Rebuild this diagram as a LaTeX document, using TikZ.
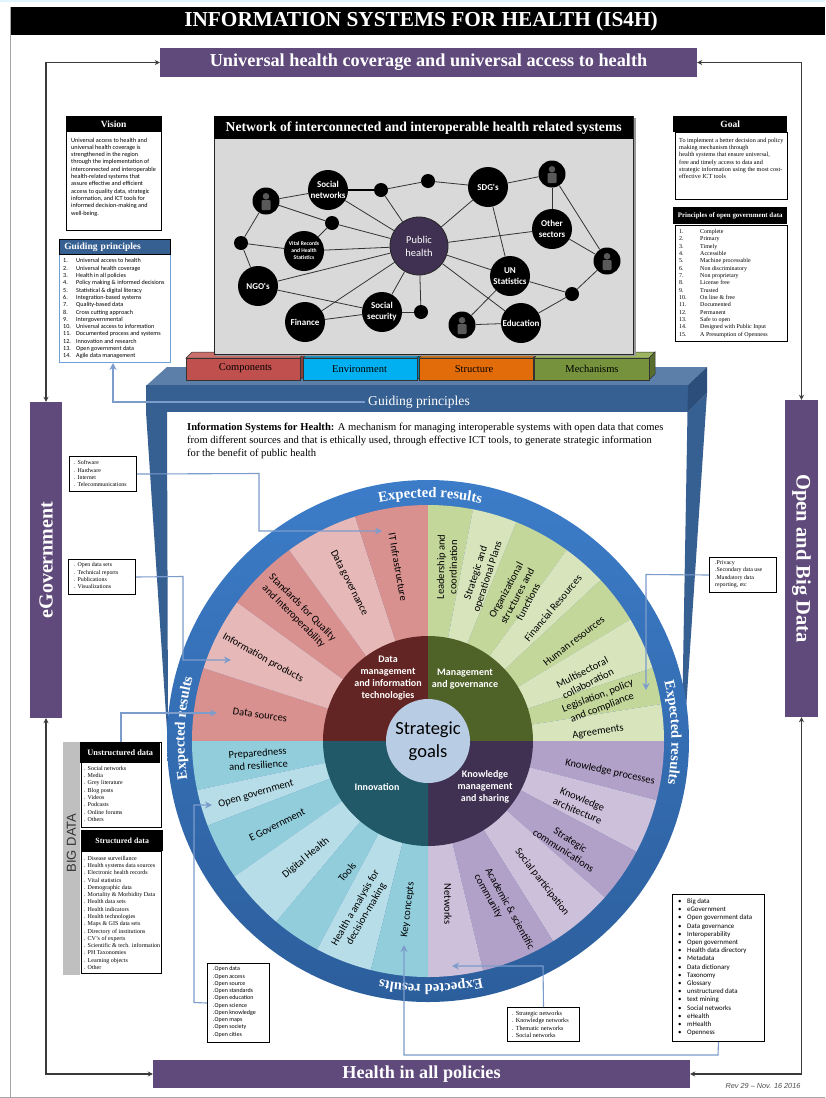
\documentclass[tikz,border=0pt]{standalone}
\usepackage{fontspec}
\setmainfont{Liberation Serif}
\setsansfont{Liberation Sans}
\newfontfamily\calfont{Carlito}
\usetikzlibrary{arrows.meta,calc,decorations.text}
\definecolor{barpurple}{HTML}{604A7B}
\definecolor{bandblue}{HTML}{376092}
\definecolor{bandtop}{HTML}{5B7FA8}
\definecolor{bandside}{HTML}{2B4F7A}
\definecolor{linkblue}{HTML}{7C9CCB}
\definecolor{framedark}{HTML}{3A3A3A}
\definecolor{redD}{HTML}{D9918F}
\definecolor{redL}{HTML}{E6B8B7}
\definecolor{greenD}{HTML}{C4D79B}
\definecolor{greenL}{HTML}{D8E4BC}
\definecolor{purpD}{HTML}{B1A0C7}
\definecolor{purpL}{HTML}{CCC0DA}
\definecolor{blueD}{HTML}{92CDDC}
\definecolor{blueL}{HTML}{B7DEE8}
\definecolor{coreR}{HTML}{632523}
\definecolor{coreG}{HTML}{4F6228}
\definecolor{coreP}{HTML}{403152}
\definecolor{coreB}{HTML}{215968}
\definecolor{hub}{HTML}{B8CCE4}
\definecolor{ringT}{HTML}{3C7CC8}
\definecolor{ringB}{HTML}{2C5E9C}
\definecolor{tabR}{HTML}{C0504D}
\definecolor{tabRt}{HTML}{C9706D}
\definecolor{tabB}{HTML}{00B0F0}
\definecolor{tabBt}{HTML}{1C8FBF}
\definecolor{tabO}{HTML}{E36C0A}
\definecolor{tabOt}{HTML}{C9701F}
\definecolor{tabG}{HTML}{76923C}
\definecolor{tabGt}{HTML}{9BB561}
\definecolor{gpline}{HTML}{6FA0DC}
\newcommand\fsz[2]{\fontsize{#1}{#2}\selectfont}
\newcommand\numi[2]{\makebox[13pt][l]{#1}#2}
\newcommand\numj[2]{\makebox[21pt][l]{#1}#2}
\newcommand\buli[1]{\makebox[9pt][l]{•}#1}
\newcommand\sector[4]{\fill[#4] (0,0) -- (#1:#3) arc (#1:#2:#3) -- cycle;}
\newcommand\ringtext[2]{\path[decorate,decoration={text along path,text align=center,
  text={|\bfseries\fsz{14.6}{15}\color{white}|Expected results}}] (#1:243.5) arc (#1:#2:243.5);}
\newcommand\tabblock[4]{%
  \fill[#4,draw=black!80,line width=.5pt] (#1,358) -- (#1+6,352) -- (#2+6,352) -- (#2,358) -- cycle;
  \fill[#3!75!black,draw=black!80,line width=.5pt] (#2,358) -- (#2+6,352) -- (#2+6,374) -- (#2,380) -- cycle;
  \fill[#3,draw=black!80,line width=.5pt] (#1,358) rectangle (#2,380);}
\newcommand\personicon[1]{%
  \fill[black!65] ($(#1)+(0,-4.7)$) circle (3.3);
  \fill[black!65,rounded corners=1pt] ($(#1)+(-4.5,-1)$) rectangle ($(#1)+(4.5,9)$);}
\tikzset{
  bar/.style={fill=barpurple,text=white,font=\bfseries,inner sep=0pt},
  hdr/.style={fill=black,text=white,font=\bfseries,inner sep=0pt,anchor=north west},
  dbox/.style={draw=black,line width=1pt,fill=white,inner sep=0pt,anchor=north west},
  lst/.style={inner sep=0pt,anchor=north west,align=left},
  frameline/.style={draw=framedark,line width=1.3pt,{Stealth[length=5pt,width=5pt]}-{Stealth[length=5pt,width=5pt]}},
  linkline/.style={draw=linkblue,line width=1.1pt,-{Stealth[length=7pt,width=7pt]}},
  net/.style={circle,fill=black,inner sep=0pt,minimum size=40pt,text=white,align=center,font=\calfont\bfseries\fsz{9}{11}},
  netdot/.style={circle,fill=black,inner sep=0pt,minimum size=14pt},
  netp/.style={circle,fill=black,inner sep=0pt,minimum size=27pt},
  netline/.style={draw=black!80,line width=.8pt},
  wl/.style={inner sep=0pt,align=center,text=black,font=\calfont\fsz{10.5}{12.5}},
  core/.style={inner sep=0pt,align=center,text=white,font=\calfont\bfseries\fsz{10}{12.2}},
  tablabel/.style={inner sep=0pt,text=black,font=\fsz{10.5}{12}},
}
\begin{document}
\begin{tikzpicture}[x=1pt,y=-1pt]
\useasboundingbox (0,0) rectangle (825,1098);
\fill[white] (0,0) rectangle (825,1098);
% page frame
\fill[cyan!12] (0,0) rectangle (825,2);
\fill[black!35] (9.5,7) rectangle (11,1098);
\fill[black!35] (0,1096.5) rectangle (825,1098);
\fill[black] (11,7) rectangle (825,35);
\node[text=white,font=\bfseries\fsz{21.3}{24}] (title) at (421,21.5) {INFORMATION SYSTEMS FOR HEALTH (IS4H)};
% purple bars
\node[bar,minimum width=537pt,minimum height=29pt,font=\bfseries\fsz{18.25}{20}] (uhc) at (428.5,62.5) {Universal health coverage and universal access to health};
\node[bar,minimum width=537pt,minimum height=28pt,font=\bfseries\fsz{18.2}{20}] (hiap) at (421.5,1074) {Health in all policies};
\node[bar,minimum width=316pt,minimum height=32pt,rotate=90,font=\bfseries\fsz{20}{22}] (egov) at (46,560) {eGovernment};
\node[bar,minimum width=317pt,minimum height=33pt,rotate=-90,font=\bfseries\fsz{20.5}{22}] (obd) at (801.5,558.5) {Open and Big Data};
\coordinate (fa) at (46,62.5);
\coordinate (fb) at (801.5,62.5);
\coordinate (fc) at (801.5,1074);
\coordinate (fd) at (46,1074);
\draw[frameline] (egov.east) -- (fa) -- (uhc.west);
\draw[frameline] (uhc.east) -- (fb) -- (obd.west);
\draw[frameline] (obd.east) -- (fc) -- (hiap.east);
\draw[frameline] (hiap.west) -- (fd) -- (egov.west);
% blue frame
\fill[bandtop] (147,385) -- (167,367) -- (707,367) -- (688,385) -- cycle;
\fill[bandblue] (146,385) rectangle (688,412);
\fill[bandblue] (146,412) -- (167,412) -- (168,730) -- (167,730) -- cycle;
\fill[bandblue] (687.5,412) -- (707,393) -- (685,725) -- (682,725) -- cycle;
\fill[bandside] (688,385) -- (707,367) -- (707,393) -- (687.5,412) -- cycle;
% tabs
\tabblock{186}{300}{tabR}{tabRt}
\tabblock{303}{417}{tabB}{tabBt}
\tabblock{419}{533}{tabO}{tabOt}
\tabblock{534}{649}{tabG}{tabGt}
\node[tablabel] (t1) at (245.5,368.5) {Components};
\node[tablabel] (t2) at (359.5,369) {Environment};
\node[tablabel] (t3) at (474,369) {Structure};
\node[tablabel] (t4) at (592,369) {Mechanisms};
% network panel
\fill[black!40] (216,118) rectangle (636,356);
\fill[black!15,draw=black!85,line width=1pt] (214,116) rectangle (633,354);
\node[hdr,minimum width=419pt,minimum height=23pt,font=\bfseries\fsz{13.7}{16}] (nettitle) at (214,116) {Network of interconnected and interoperable health related systems};
\node[net,minimum size=58pt,draw=black!85,line width=.8pt,fill=coreP,font=\calfont\fsz{10.5}{13}] (ph) at (419,246) {Public\\health};
\node[net] (sn) at (328,190) {Social\\networks};
\node[netp] (p1) at (266,201) {};
\node[netdot] (da) at (381,190) {};
\node[netdot] (db) at (428,181) {};
\node[net] (sdg) at (488,187) {SDG's};
\node[netp] (p2) at (552,174) {};
\node[net] (os) at (552,229) {Other\\sectors};
\node[netp] (p3) at (607,261) {};
\node[net] (un) at (510,276) {UN\\Statistics};
\node[netdot] (dc) at (572,294) {};
\node[net] (edu) at (521,323) {Education};
\node[netp] (p4) at (462,325) {};
\node[netdot] (dd) at (421,312) {};
\node[net] (ss) at (382,312) {Social\\security};
\node[net] (fin) at (305,322) {Finance};
\node[net] (ngo) at (258,286) {NGO's};
\node[net,font=\calfont\bfseries\fsz{5.6}{7}] (vr) at (304,251) {Vital Records\\and Health\\Statistics};
\node[netdot] (de) at (241,243) {};
\node[netdot] (df) at (332,223) {};
\personicon{p1}
\personicon{p2}
\personicon{p3}
\personicon{p4}
\foreach \a/\b in {p1/sn,da/db,db/sdg,sdg/p2,p2/os,p2/p3,os/p3,sdg/un,p3/dc,un/dc,dc/edu,edu/ph,un/ph,un/p4,p4/edu,ph/dd,ph/ss,ss/dd,ph/fin,ph/ngo,ph/vr,ph/df,df/p1,df/vr,de/p1,de/vr,de/ngo,sn/ph,da/ph,sdg/ph,os/ph,ngo/ss,fin/ss}
  {\draw[netline] (\a) -- (\b);}
\draw[draw=black,line width=1.2pt] (sn) -- (da);
% band label
\node[text=white,font=\fsz{13.6}{15}] (gplabel) at (419,402) {Guiding principles};
% definition text
\node[lst,font=\fsz{10.58}{13}] (deftext) at (187,423) {\textbf{Information Systems for Health:} A mechanism for managing interoperable systems with open data that comes\\from different sources and that is ethically used, through effective ICT tools, to generate strategic information\\for the benefit of public health};
% wheel
\begin{scope}[shift={(428,741)},y=1pt]
\shade[top color=ringT,bottom color=ringB] (0,0) circle (261);
\sector{180}{162}{236}{redD}\sector{162}{144}{236}{redL}\sector{144}{126}{236}{redD}\sector{126}{108}{236}{redL}\sector{108}{90}{236}{redD}
\sector{90}{79}{236}{greenD}\sector{79}{68}{236}{greenL}\sector{68}{54}{236}{greenD}\sector{54}{43}{236}{greenL}\sector{43}{31}{236}{greenD}\sector{31}{18}{236}{greenL}\sector{18}{9}{236}{greenD}\sector{9}{0}{236}{greenL}
\sector{0}{-14.5}{236}{purpD}\sector{-14.5}{-28}{236}{purpL}\sector{-28}{-41.5}{236}{purpD}\sector{-41.5}{-58}{236}{purpL}\sector{-58}{-76.5}{236}{purpD}\sector{-76.5}{-90}{236}{purpL}
\sector{180}{192}{236}{blueD}\sector{192}{201}{236}{blueL}\sector{201}{215}{236}{blueD}\sector{215}{230}{236}{blueL}\sector{230}{242}{236}{blueD}\sector{242}{256}{236}{blueL}\sector{256}{270}{236}{blueD}
\sector{90}{180}{105}{coreR}
\sector{0}{90}{105}{coreG}
\sector{-90}{0}{105}{coreP}
\sector{180}{270}{105}{coreB}
\fill[hub] (0,0) circle (42);
\ringtext{129.5}{49.5}
\ringtext{42}{-38}
\ringtext{-49.3}{-129.3}
\ringtext{217}{137}
\end{scope}
\node[wl,rotate=-8.5] (w1) at (260,715) {Data sources};
\node[wl,rotate=-29] (w2) at (263,658) {Information products};
\node[wl,rotate=-45] (w3) at (298,612) {Standards for Quality\\and Interoperability};
\node[wl,rotate=-63] (w4) at (349,583) {Data governance};
\node[wl,rotate=-80] (w5) at (398,567) {IT Infrastructure};
\node[wl,rotate=89] (w6) at (447,567) {Leadership and\\coordination};
\node[wl,rotate=72] (w7) at (482,575) {Strategic and\\operational Plans};
\node[wl,rotate=62] (w8) at (517,596) {Organizational\\structures and\\functions};
\node[wl,rotate=50] (w9) at (553,608) {Financial Resources};
\node[wl,rotate=38] (w10) at (574,641) {Human resources};
\node[wl,rotate=27] (w11) at (585,678) {Multisectoral\\collaboration};
\node[wl,rotate=21] (w12) at (600,702) {Legislation, policy\\and compliance};
\node[wl,rotate=8] (w13) at (598,732) {Agreements};
\node[wl,rotate=-12] (w14) at (610,772) {Knowledge processes};
\node[wl,rotate=-23] (w15) at (580,805) {Knowledge\\architecture};
\node[wl,rotate=-33] (w16) at (567,845) {Strategic\\communications};
\node[wl,rotate=-52] (w17) at (542,882) {Social participation};
\node[wl,rotate=-61,align=left] (w18) at (504,912) {Academic \& scientific\\community};
\node[wl,rotate=-90] (w19) at (448,904) {Networks};
\node[wl,rotate=4] (w20) at (258,759) {Preparedness\\and resilience};
\node[wl,rotate=16] (w21) at (256,794) {Open government};
\node[wl,rotate=27] (w22) at (277,825) {E Government};
\node[wl,rotate=40] (w23) at (306,858) {Digital Health};
\node[wl,rotate=50] (w24) at (347,872) {Tools};
\node[wl,rotate=60] (w25) at (361,911) {Health a analysis for\\decision-making};
\node[wl,rotate=83] (w26) at (408,910) {Key concepts};
\node[core] (c1) at (388,678) {Data\\management\\and information\\technologies};
\node[core] (c2) at (465,679) {Management\\and governance};
\node[core] (c3) at (485,787) {Knowledge\\management\\and sharing};
\node[core] (c4) at (377,787) {Innovation};
\node[inner sep=0pt,align=center,font=\calfont\fsz{18.5}{22.5}] (sg) at (428,741) {Strategic\\goals};
% vision
\node[dbox,minimum width=95pt,minimum height=114pt] (vbox) at (66,116) {};
\node[hdr,minimum width=95pt,minimum height=16pt,font=\bfseries\fsz{9.5}{11}] (vh) at (66,116) {Vision};
\node[lst,font=\calfont\fsz{6.2}{7.3}] (vt) at (71,137.5) {Universal access to health and\\universal health coverage is\\strengthened in the region\\through the implementation of\\interconnected and interoperable\\health-related systems that\\assure effective and efficient\\access to quality data, strategic\\information, and ICT tools for\\informed decision-making and\\well-being.};
% guiding principles
\node[dbox,draw=gpline,minimum width=111pt,minimum height=123pt] (gbox) at (59,239) {};
\node[hdr,fill=bandblue,minimum width=111pt,minimum height=15pt,draw=black,line width=.6pt,font=\bfseries\fsz{9.5}{11},align=left,text width=101pt] (gh) at (59,239) {Guiding principles};
\node[lst,font=\calfont\fsz{6.15}{7.3}] (gt) at (63,258.5) {\numi{1.}{Universal access to health}\\\numi{2.}{Universal health coverage}\\\numi{3.}{Health in all policies}\\\numi{4.}{Policy making \& informed decisions}\\\numi{5.}{Statistical \& digital literacy}\\\numi{6.}{Integration-based systems}\\\numi{7.}{Quality-based data}\\\numi{8.}{Cross cutting approach}\\\numi{9.}{Intergovernmental}\\\numi{10.}{Universal access to information}\\\numi{11.}{Documented process and systems}\\\numi{12.}{Innovation and research}\\\numi{13.}{Open government data}\\\numi{14.}{Agile data management}};
% goal
\node[dbox,minimum width=112pt,minimum height=67pt] (gobox) at (675,132) {};
\node[hdr,minimum width=114pt,minimum height=16pt,font=\bfseries\fsz{9.5}{11}] (goh) at (673,116) {Goal};
\node[lst,font=\fsz{6.2}{7.2}] (got) at (679,138) {To implement a better decision and policy\\making mechanism through\\health systems that ensure universal,\\free and timely access to data and\\strategic information using the most cost-\\effective ICT tools};
% principles
\node[dbox,minimum width=112pt,minimum height=116pt] (prbox) at (675,225) {};
\node[hdr,minimum width=114pt,minimum height=17pt,font=\bfseries\fsz{6.9}{9}] (prh) at (673,207) {Principles of open government data};
\node[lst,font=\fsz{6}{7.35}] (prt) at (679,229) {\numj{1.}{Complete}\\\numj{2.}{Primary}\\\numj{3.}{Timely}\\\numj{4.}{Accessible}\\\numj{5.}{Machine processable}\\\numj{6.}{Non discriminatory}\\\numj{7.}{Non proprietary}\\\numj{8.}{License free}\\\numj{9.}{Trusted}\\\numj{10.}{On line \& free}\\\numj{11.}{Documented}\\\numj{12.}{Permanent}\\\numj{13.}{Safe to open}\\\numj{14.}{Designed with Public Input}\\\numj{15.}{A Presumption of Openness}};
% small boxes
\node[dbox,minimum width=67pt,minimum height=35pt] (swbox) at (69,456) {};
\node[lst,font=\fsz{5.9}{7.2}] (swt) at (74,460.5) {. Software\\. Hardware\\. Internet\\. Telecommunications};
\node[dbox,minimum width=67pt,minimum height=35pt] (odbox) at (68,559) {};
\node[lst,font=\fsz{5.9}{7.3}] (odt) at (74,562.5) {. Open data sets\\. Technical reports\\. Publications\\. Visualizations};
\node[dbox,minimum width=67pt,minimum height=35pt] (prvbox) at (709,557) {};
\node[lst,font=\fsz{5.9}{7.3}] (prvt) at (715,560.5) {.Privacy\\.Secondary data use\\.Mandatory data\\reporting, etc};
\node[dbox,minimum width=80pt,minimum height=85pt] (ubox) at (81,742) {};
\node[hdr,minimum width=80pt,minimum height=21pt,font=\bfseries\fsz{8.3}{9}] (uh) at (80,742) {Unstructured data};
\node[lst,font=\fsz{6}{7.3}] (ut) at (84,766) {. Social networks\\. Media\\. Grey literature\\. Blog posts\\. Videos\\. Podcasts\\. Online forums\\. Others};
\fill[black!25] (63,742) rectangle (80,975);
\node[rotate=90,inner sep=0pt,font=\sffamily\fsz{13}{15},text=black!80] (bigd) at (71.5,843) {BIG DATA};
\node[dbox,minimum width=80pt,minimum height=122pt] (sbox) at (81,851) {};
\node[hdr,minimum width=82pt,minimum height=21pt,font=\bfseries\fsz{7.9}{9}] (sh) at (81,830) {Structured data};
\node[lst,font=\fsz{6}{7.27}] (st) at (84,856) {. Disease surveillance\\. Health systems data sources\\. Electronic health records\\. Vital statistics\\. Demographic data\\. Mortality \& Morbidity Data\\. Health data sets\\. Health indicators\\. Health technologies\\. Maps \& GIS data sets\\. Directory of institutions\\. CV's of experts\\. Scientific \& tech. information\\. PH Taxonomies\\. Learning objects\\. Other};
\node[dbox,minimum width=62pt,minimum height=79pt] (obox) at (207,963) {};
\node[lst,font=\calfont\fsz{6}{7.25}] (ot) at (213,966.5) {.Open data\\.Open access\\.Open source\\.Open standards\\.Open education\\.Open science\\.Open knowledge\\.Open maps\\.Open society\\.Open cities};
\node[dbox,minimum width=72pt,minimum height=34pt] (nbox) at (507,1007) {};
\node[lst,font=\fsz{6.2}{7.4}] (nt) at (512,1011) {. Strategic networks\\. Knowledge networks\\. Thematic networks\\. Social networks};
\node[dbox,minimum width=92pt,minimum height=147pt] (cbox) at (672,894) {};
\node[lst,font=\calfont\fsz{6.9}{8.2}] (ct) at (678,898.5) {\buli{Big data}\\\buli{eGovernment}\\\buli{Open government data}\\\buli{Data governance}\\\buli{Interoperability}\\\buli{Open government}\\\buli{Health data directory}\\\buli{Metadata}\\\buli{Data dictionary}\\\buli{Taxonomy}\\\buli{Glossary}\\\buli{unstructured data}\\\buli{text mining}\\\buli{Social networks}\\\buli{eHealth}\\\buli{mHealth}\\\buli{Openness}};
\node[inner sep=0pt,font=\sffamily\itshape\fsz{7.3}{8},text=black!70] (rev) at (763,1085.5) {Rev 29 – Nov. 16 2016};
% blue connectors
\coordinate (l1) at (113,402);
\draw[linkline] (gplabel.west) -- (l1) -- (gbox.south -| l1);
\coordinate (l2a) at (259,473.5);
\coordinate (l2b) at (259,531);
\coordinate (l2c) at (382,531);
\draw[linkline] (swbox.east) -- (l2a) -- (l2b) -- (l2c);
\coordinate (l3a) at (183,576.5);
\coordinate (l3b) at (183,660);
\coordinate (l3c) at (231,660);
\draw[linkline] (odbox.east) -- (l3a) -- (l3b) -- (l3c);
\coordinate (l4a) at (646,574.5);
\coordinate (l4b) at (646,690);
\draw[linkline] (prvbox.west) -- (l4a) -- (l4b);
\coordinate (l5a) at (121,713);
\coordinate (l5b) at (217,713);
\draw[linkline] (uh.north -| l5a) -- (l5a) -- (l5b);
\coordinate (l6a) at (194,1002.5);
\coordinate (l6b) at (194,805);
\coordinate (l6c) at (212,805);
\draw[linkline] (obox.west) -- (l6a) -- (l6b) -- (l6c);
\coordinate (l7a) at (543,966);
\coordinate (l7b) at (452,966);
\draw[linkline] (nbox.north) -- (l7a) -- (l7b);
\coordinate (l8a) at (718,1055);
\coordinate (l8b) at (404,1055);
\coordinate (l8c) at (404,945);
\draw[linkline] (cbox.south) -- (l8a) -- (l8b) -- (l8c);
\end{tikzpicture}
\end{document}
